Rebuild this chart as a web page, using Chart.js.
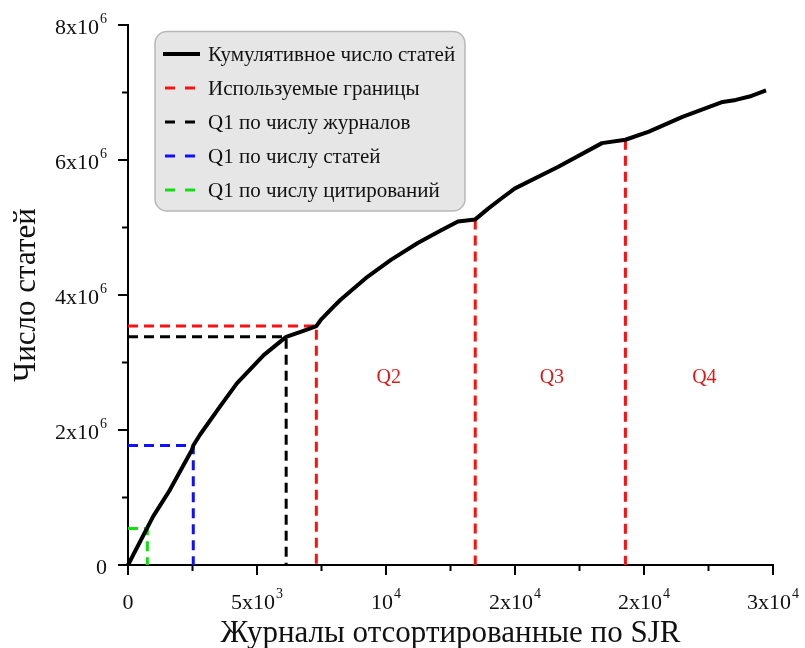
<!DOCTYPE html>
<html>
<head>
<meta charset="utf-8">
<script src="https://cdn.jsdelivr.net/npm/chart.js@4/dist/chart.umd.min.js"></script>
<style>
  html, body { margin: 0; padding: 0; background: #fff; }
  #wrap { width: 805px; height: 648px; }
</style>
</head>
<body>
<div id="wrap"><canvas id="sjrChart" width="805" height="648"></canvas></div>
<script>
// cumulative curve
const curveX = [0, 975, 1620, 2470, 2530, 2790, 3570, 4220, 5260, 6130, 6800, 7300, 7470, 7980, 8240,
    9280, 10190, 11230, 12140, 12790, 13460, 13960, 14470, 15000, 16680, 18370, 19280, 20190,
    21490, 23050, 23560, 24090, 24730];
const curveY = [0, 0.72e6, 1.11e6, 1.70e6, 1.77e6, 1.93e6, 2.35e6, 2.69e6, 3.11e6, 3.38e6, 3.47e6, 3.54e6,
    3.63e6, 3.83e6, 3.93e6, 4.27e6, 4.52e6, 4.77e6, 4.96e6, 5.09e6, 5.12e6, 5.28e6, 5.43e6, 5.58e6,
    5.90e6, 6.25e6, 6.30e6, 6.42e6, 6.64e6, 6.86e6, 6.89e6, 6.94e6, 7.03e6];

// used boundaries (red)
const boundaryX = [7300, 13460, 19280];
const boundaryY = [3.54e6, 5.12e6, 6.30e6];

// Q1 markers: [x, y]
const q1Journals = [6130, 3.38e6];
const q1Articles = [2530, 1.77e6];
const q1Citations = [750, 0.54e6];

const quartileLabels = ['Q2', 'Q3', 'Q4'];
const quartileX = [10110, 16430, 22340];
const quartileY = 2.77e6;

// tick labels: mantissa part and exponent part
const xTickValues = [0, 5000, 10000, 15000, 20000, 25000];
const xTickBase = ['0', '5x10', '10', '2x10', '2x10', '3x10'];
const xTickExp = ['', '3', '4', '4', '4', '4'];
const yTickValues = [0, 2e6, 4e6, 6e6, 8e6];
const yTickBase = ['0', '2x10', '4x10', '6x10', '8x10'];
const yTickExp = ['', '6', '6', '6', '6'];

const legendLabels = ['Кумулятивное число статей', 'Используемые границы', 'Q1 по числу журналов',
    'Q1 по числу статей', 'Q1 по числу цитирований'];

const FONT = "'Liberation Serif', 'Times New Roman', serif";
const RED = '#ff1010';
const BLUE = '#1010ff';
const GREEN = '#10e010';
const BLACK = '#000000';

const lShape = (p) => [{ x: 0, y: p[1] }, { x: p[0], y: p[1] }, { x: p[0], y: 0 }];

const redData = [{ x: 0, y: boundaryY[0] }];
boundaryX.forEach((bx, i) => {
    if (i > 0) redData.push({ x: bx, y: null });
    redData.push({ x: bx, y: boundaryY[i] }, { x: bx, y: 0 });
});

const dashed = (data, color) => ({
    data,
    borderColor: color,
    borderWidth: 3,
    borderDash: [10, 6],
    pointRadius: 0,
    spanGaps: false,
    clip: false
});

const legendColors = [BLACK, RED, BLACK, BLUE, GREEN];

// label with a raised exponent, e.g. 5x10^3
function drawPowerLabel(ctx, base, exp, x, y, align) {
    ctx.font = '22px ' + FONT;
    const wb = ctx.measureText(base).width;
    ctx.font = '14px ' + FONT;
    const we = exp ? ctx.measureText(exp).width + 1 : 0;
    const w = wb + we;
    const start = align === 'right' ? x - w : x - w / 2;
    ctx.textAlign = 'left';
    ctx.textBaseline = 'middle';
    ctx.font = '22px ' + FONT;
    ctx.fillText(base, start, y);
    if (exp) {
        ctx.font = '14px ' + FONT;
        ctx.fillText(exp, start + wb + 1, y - 9);
    }
}

const decorPlugin = {
    id: 'decor',
    afterDraw(chart) {
        const ctx = chart.ctx;
        const xs = chart.scales.x, ys = chart.scales.y;
        const x0 = xs.left, y0 = ys.bottom;
        ctx.save();
        ctx.strokeStyle = '#000';
        ctx.lineWidth = 2;
        // axis ticks, major and minor
        for (let v = 0; v <= 25000; v += 2500) {
            const px = xs.getPixelForValue(v);
            const len = v % 5000 === 0 ? 10 : 6;
            ctx.beginPath(); ctx.moveTo(px, y0); ctx.lineTo(px, y0 + len); ctx.stroke();
        }
        for (let v = 0; v <= 8e6; v += 1e6) {
            const py = ys.getPixelForValue(v);
            const len = v % 2e6 === 0 ? 10 : 6;
            ctx.beginPath(); ctx.moveTo(x0, py); ctx.lineTo(x0 - len, py); ctx.stroke();
        }

        // tick labels
        ctx.fillStyle = '#111';
        xTickValues.forEach((v, i) => {
            drawPowerLabel(ctx, xTickBase[i], xTickExp[i], xs.getPixelForValue(v), y0 + 38, 'center');
        });
        yTickValues.forEach((v, i) => {
            drawPowerLabel(ctx, yTickBase[i], yTickExp[i], x0 - 21, ys.getPixelForValue(v) + 3, 'right');
        });

        // quartile labels
        ctx.fillStyle = '#e01818';
        ctx.font = '20px ' + FONT;
        ctx.textAlign = 'center';
        ctx.textBaseline = 'middle';
        quartileLabels.forEach((t, i) => {
            ctx.fillText(t, xs.getPixelForValue(quartileX[i]), ys.getPixelForValue(quartileY));
        });

        // legend box
        const bx = 155, by = 31.5, bw = 310, bh = 179.5;
        ctx.beginPath();
        ctx.roundRect(bx, by, bw, bh, 12);
        ctx.fillStyle = '#e6e6e6';
        ctx.fill();
        ctx.strokeStyle = '#b8b8b8';
        ctx.lineWidth = 1.5;
        ctx.stroke();

        ctx.textAlign = 'left';
        ctx.font = '21px ' + FONT;
        legendLabels.forEach((t, i) => {
            const ly = 54 + i * 34;
            ctx.strokeStyle = legendColors[i];
            ctx.lineWidth = i === 0 ? 4 : 3;
            ctx.beginPath();
            if (i === 0) {
                ctx.moveTo(163, ly); ctx.lineTo(200, ly);
            } else {
                ctx.moveTo(165, ly); ctx.lineTo(175, ly);
                ctx.moveTo(185, ly); ctx.lineTo(195, ly);
            }
            ctx.stroke();
            ctx.fillStyle = '#111';
            ctx.fillText(t, 208, ly + 1);
        });
        ctx.restore();
    }
};

new Chart(document.getElementById('sjrChart'), {
    type: 'line',
    data: {
        datasets: [
            {
                data: curveX.map((x, i) => ({ x, y: curveY[i] })),
                borderColor: BLACK,
                borderWidth: 4,
                pointRadius: 0,
                tension: 0,
                borderJoinStyle: 'round',
                clip: false
            },
            dashed(redData, RED),
            dashed(lShape(q1Journals), BLACK),
            dashed(lShape(q1Articles), BLUE),
            dashed(lShape(q1Citations), GREEN)
        ]
    },
    options: {
        responsive: false,
        animation: false,
        layout: { padding: { top: 25, right: 32, left: 0, bottom: 0 } },
        plugins: { legend: { display: false }, tooltip: { enabled: false } },
        scales: {
            x: {
                type: 'linear',
                min: 0,
                max: 25000,
                afterFit: (s) => { s.height = 83; },
                grid: { display: false },
                border: { display: true, color: '#000', width: 2 },
                ticks: { display: false },
                title: {
                    display: true,
                    text: 'Журналы отсортированные по SJR',
                    color: '#111',
                    font: { family: FONT, size: 31 },
                    padding: { top: 0, bottom: -4 }
                }
            },
            y: {
                min: 0,
                max: 8e6,
                afterFit: (s) => { s.width = 128; },
                grid: { display: false },
                border: { display: true, color: '#000', width: 2 },
                ticks: { display: false },
                title: {
                    display: true,
                    text: 'Число статей',
                    color: '#111',
                    font: { family: FONT, size: 31 },
                    padding: { top: 8, bottom: 0 }
                }
            }
        }
    },
    plugins: [decorPlugin]
});
</script>
</body>
</html>
